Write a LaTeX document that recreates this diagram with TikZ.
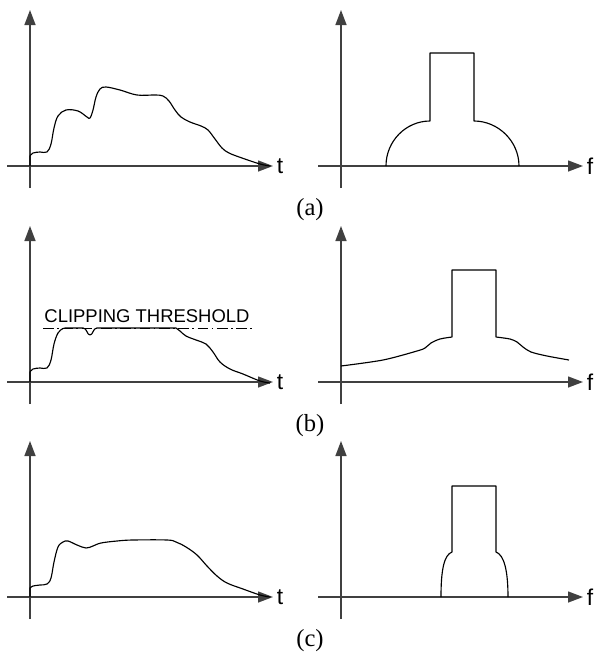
\documentclass[tikz,border=0pt]{standalone}
\usepackage{fontspec}
\setmainfont{Liberation Serif}
\setsansfont{Liberation Sans}
\usetikzlibrary{arrows.meta}

\begin{document}
\begin{tikzpicture}[x=0.2mm, y=-0.2mm,
    axis/.style={black!75, line width=0.8pt, -{Triangle[length=3mm,width=2.2mm]}},
    sig/.style={line width=0.65pt, line join=round},
    var/.style={font=\sffamily\fontsize{13}{15}\selectfont, anchor=west, inner sep=1.5pt},
    lbl/.style={font=\fontsize{14}{16}\selectfont}]
  \useasboundingbox (0,0) rectangle (600,654);
  % axes and captions, one row at a time
  \foreach \dy/\lab in {0/a, 216/b, 431/c} {
    \draw[axis] (30,188+\dy) -- (30,10+\dy);
    \draw[axis] (7,166+\dy) -- (273,166+\dy);
    \node[var] (t\lab) at (274,166+\dy) {t};
    \draw[axis] (341,188+\dy) -- (341,10+\dy);
    \draw[axis] (318,166+\dy) -- (583,166+\dy);
    \node[var] (f\lab) at (584,166+\dy) {f};
    \node[lbl] (cap\lab) at (310,210+\dy) {(\lab)};
  }
  % (a) original signal and spectrum
  \draw[sig] (30,166) -- (30,156) -- plot[smooth, tension=0.6] coordinates {(30,156) (33,153) (40,152) (47,152)
    (51,144) (54,128) (58,116) (66,110) (78,111) (87,117) (90,118) (93,110) (96,97) (100,89) (106,87)
    (120,90) (137,95) (155,95) (163,96) (169,101) (175,110) (181,117) (190,122) (201,126) (208,130)
    (215,139) (222,148) (229,153) (242,158) (260,164) (270,166)};
  \draw[sig] (386,166) .. controls (386,141) and (406,121) .. (430,121) -- (430,53) -- (474,53)
    -- (474,121) .. controls (498,121) and (519,141) .. (519,166);
  % (b) clipped signal and spectrum
  \draw[dash pattern=on 6pt off 2pt on 1pt off 2pt, line width=0.5pt] (43,328) -- (255,328);
  \node[font=\sffamily\fontsize{10.5}{12}\selectfont, anchor=base, inner sep=0pt] (thr) at (147,322)
    {CLIPPING THRESHOLD};
  \draw[sig] (30,382) -- (30,372) -- plot[smooth, tension=0.6] coordinates {(30,372) (33,369) (40,368)
    (47,368) (51,360) (54,344) (58,333) (63,328.5) (67,328)}
    -- (83,328) .. controls (87,328) and (87,335) .. (90,335) .. controls (93,335) and (93,328) .. (97,328)
    -- (176,328) -- plot[smooth, tension=0.6] coordinates {(176,328) (180,331) (186,336) (196,340)
    (206,344) (213,352) (220,362) (230,369) (243,374) (260,381) (270,383)};
  \draw[sig] plot[smooth, tension=0.5] coordinates {(341,366) (383,360) (417,351) (425,348) (431,343)
    (440,339) (452,337)} -- (452,270) -- (496,270) -- plot[smooth, tension=0.5] coordinates {(496,337)
    (510,339) (517,342) (523,347) (531,352) (547,356) (569,360)};
  % (c) filtered signal and spectrum
  \draw[sig] (30,597) -- (30,588) -- plot[smooth, tension=0.6] coordinates {(30,588) (33,586) (40,585)
    (47,584) (51,578) (54,562) (58,547) (63,542) (68,541) (77,545) (86,548) (93,546) (101,543)
    (117,541) (133,540) (167,540) (176,542) (186,547) (197,555) (207,566) (217,576) (227,583)
    (243,589) (260,595) (270,597)};
  \draw[sig] (441,597) .. controls (441,570) and (444,555) .. (452,552) -- (452,486) -- (496,486)
    -- (496,552) .. controls (504,555) and (508,570) .. (508,597);
\end{tikzpicture}
\end{document}
